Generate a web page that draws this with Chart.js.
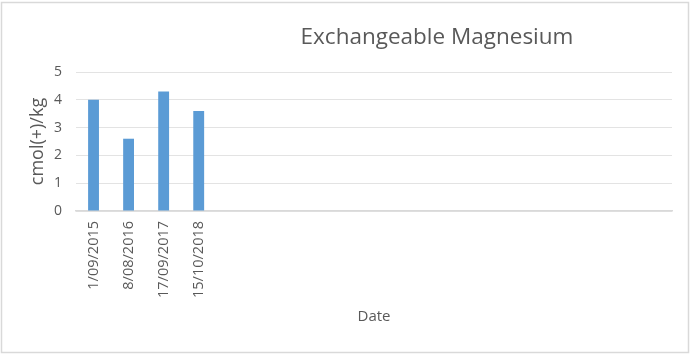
<!DOCTYPE html>
<html>
<head>
<meta charset="utf-8">
<script src="https://cdn.jsdelivr.net/npm/chart.js@4"></script>
<style>
  html, body { margin: 0; padding: 0; background: #fff; }
  #wrap { width: 690px; height: 354px; position: relative; }
</style>
</head>
<body>
<div id="wrap"><canvas id="mgChart" width="690" height="354"></canvas></div>
<script>
// sample dates and exchangeable Mg values (cmol(+)/kg)
const sampleDates = ['1/09/2015', '8/08/2016', '17/09/2017', '15/10/2018'];
const magnesium = [4.0, 2.6, 4.3, 3.6];
const yTicks = [0, 1, 2, 3, 4, 5];
// the x axis has room for more samples than are filled in
const slotCount = 17;

const labels = [];
const values = [];
for (let i = 0; i < slotCount; i++) {
    labels.push(i < sampleDates.length ? sampleDates[i] : '');
    values.push(i < magnesium.length ? magnesium[i] : null);
}

const textGrey = '#595959';

const frameAndTitle = {
    id: 'frameAndTitle',
    beforeDraw(chart) {
        const ctx = chart.ctx;
        ctx.save();
        ctx.fillStyle = '#fff';
        ctx.fillRect(0, 0, chart.width, chart.height);
        ctx.strokeStyle = '#d9d9d9';
        ctx.lineWidth = 1.5;
        ctx.strokeRect(1.5, 2.5, chart.width - 3, chart.height - 4);
        ctx.restore();
    },
    afterDraw(chart) {
        const ctx = chart.ctx;
        ctx.save();
        ctx.font = '22.5px "Open Sans", sans-serif';
        ctx.fillStyle = textGrey;
        ctx.textAlign = 'center';
        ctx.textBaseline = 'middle';
        ctx.fillText('Exchangeable Magnesium', 437, 38);
        ctx.restore();
    }
};

new Chart(document.getElementById('mgChart'), {
    type: 'bar',
    data: {
        labels: labels,
        datasets: [{
            data: values,
            backgroundColor: '#5b9bd5',
            categoryPercentage: 1,
            barPercentage: 0.31
        }]
    },
    options: {
        responsive: false,
        animation: false,
        layout: { padding: { left: 22, right: 18, top: 72, bottom: 24 } },
        plugins: { legend: { display: false }, tooltip: { enabled: false } },
        scales: {
            x: {
                grid: { display: false, drawTicks: false },
                border: { color: '#d9d9d9', width: 1.5 },
                ticks: {
                    color: textGrey,
                    font: { family: 'Open Sans', size: 14.5 },
                    minRotation: 90,
                    maxRotation: 90,
                    autoSkip: false,
                    padding: 10
                },
                title: {
                    display: true,
                    text: 'Date',
                    color: textGrey,
                    font: { family: 'Open Sans', size: 15 }
                },
                afterFit: s => { s.height = 119; }
            },
            y: {
                min: 0,
                max: 5,
                afterBuildTicks: s => { s.ticks = yTicks.map(v => ({ value: v })); },
                grid: { color: '#e3e3e3', drawTicks: false },
                border: { display: false },
                ticks: {
                    color: textGrey,
                    font: { family: 'Open Sans', size: 14 },
                    padding: 14
                },
                title: {
                    display: true,
                    text: 'cmol(+)/kg',
                    color: textGrey,
                    font: { family: 'Open Sans', size: 18 },
                    padding: { top: 5, bottom: 0 }
                },
                afterFit: s => { s.width = 54; }
            }
        }
    },
    plugins: [frameAndTitle]
});
</script>
</body>
</html>
